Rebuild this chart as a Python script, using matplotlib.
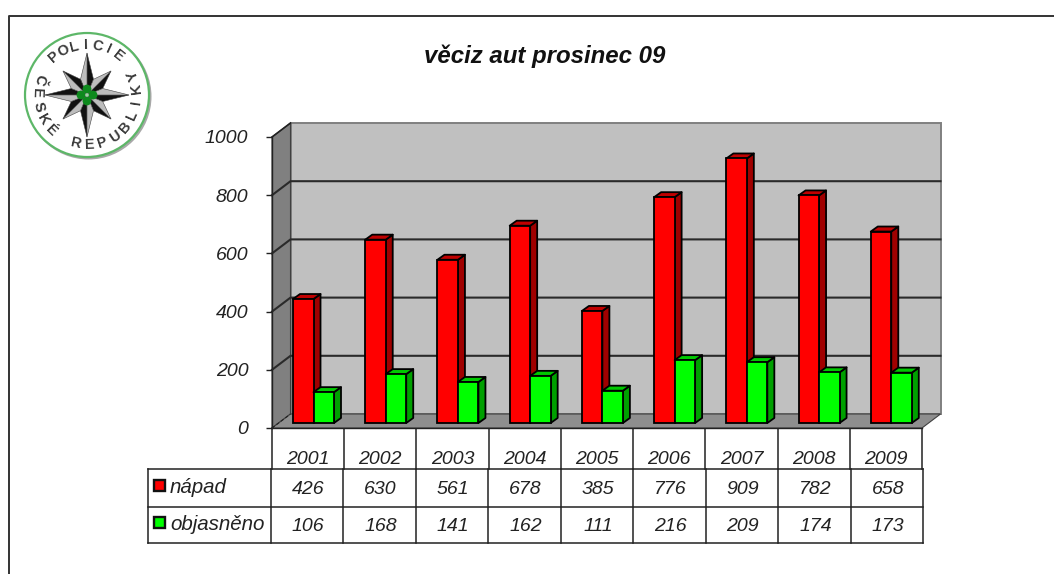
import numpy as np
import matplotlib
matplotlib.use("Agg")
import matplotlib.pyplot as plt
from matplotlib.patches import Polygon, Rectangle, Circle

plt.rcParams['font.family'] = ['Liberation Sans', 'DejaVu Sans']

years = ['2001', '2002', '2003', '2004', '2005', '2006', '2007', '2008', '2009']
napad = [426, 630, 561, 678, 385, 776, 909, 782, 658]
objasneno = [106, 168, 141, 162, 111, 216, 209, 174, 173]
yticks = [0, 200, 400, 600, 800, 1000]
title = 'věciz aut prosinec 09'
series_names = ['nápad', 'objasněno']

W, H = 1054, 574
fig = plt.figure(figsize=(W / 100, H / 100), dpi=100, facecolor='white')

# overlay in pixel coordinates for frame, logo, table
ov = fig.add_axes([0, 0, 1, 1], zorder=0)
ov.set_xlim(0, W); ov.set_ylim(H, 0); ov.axis('off')

# front plane of the 3D chart
L, R, T, B = 272, 922, 137, 428
ax = fig.add_axes([L / W, 1 - B / H, (R - L) / W, (B - T) / H], zorder=2)
ax.patch.set_alpha(0)
ax.set_xlim(0, 9); ax.set_ylim(0, 1000)
for s in ('top', 'right'):
    ax.spines[s].set_visible(False)
for s in ('left', 'bottom'):
    ax.spines[s].set_linewidth(1.0)
    ax.spines[s].set_color('#222222')
px_x = 9 / (R - L); px_y = 1000 / (B - T)
DX, DY = 18.5 * px_x, 14 * px_y      # wall depth
ax.set_xticks([])
ax.set_yticks(yticks)
ax.tick_params(axis='y', length=4.5, width=1, color='#222222', pad=12.5, labelsize=14)
for lab in ax.get_yticklabels():
    lab.set_fontstyle('italic'); lab.set_color('#222222'); lab.set_y(lab.get_position()[1])

# walls
ax.add_patch(Polygon([(DX, DY), (9 + DX, DY), (9 + DX, 1000 + DY), (DX, 1000 + DY)],
                     fc='#C0C0C0', ec='#808080', lw=1.4, clip_on=False, zorder=1))
ax.add_patch(Polygon([(0, 0), (DX, DY), (DX, 1000 + DY), (0, 1000)],
                     fc='#808080', ec='#404040', lw=0.8, clip_on=False, zorder=1.1))
ax.add_patch(Polygon([(0, 0), (DX, DY), (9 + DX, DY), (9, 0)],
                     fc='#8E8E8E', ec='#404040', lw=0.8, clip_on=False, zorder=1.1))
for v in yticks[1:-1]:
    ax.plot([0, DX, 9 + DX], [v, v + DY, v + DY], color='#2a2a2a', lw=1.5,
            clip_on=False, zorder=1.2, solid_joinstyle='miter')
ax.plot([0, DX], [0, DY], color='#222222', lw=0.8, ls=(0, (3, 2)), clip_on=False, zorder=1.2)
ax.plot([0, DX], [1000, 1000 + DY], color='#222222', lw=1.2, clip_on=False, zorder=1.2)

# bars
BW = 20.5 * px_x
OFF = 21 * px_x
BX, BY = 7 * px_x, 5 * px_y
BASE = 5 * px_y
def bar3d(x, v, front, side, top, z):
    ax.bar(x, v, width=BW, bottom=BASE, align='edge', color=front, edgecolor='black',
           linewidth=1.3, zorder=z + .2, clip_on=False)
    t = BASE + v
    ax.add_patch(Polygon([(x + BW, BASE), (x + BW + BX, BASE + BY), (x + BW + BX, t + BY), (x + BW, t)],
                         fc=side, ec='black', lw=1.3, zorder=z, clip_on=False, joinstyle='round'))
    ax.add_patch(Polygon([(x, t), (x + BX, t + BY), (x + BW + BX, t + BY), (x + BW, t)],
                         fc=top, ec='black', lw=1.3, zorder=z, clip_on=False, joinstyle='round'))
for i, (a, b) in enumerate(zip(napad, objasneno)):
    bar3d(i + OFF, a, '#FF0000', '#A00000', '#C00000', 2 + i)
    bar3d(i + OFF + BW, b, '#00FF00', '#00A000', '#00C800', 2.5 + i)

# frame
ov.plot([8.5, 8.5, W], [H, 16, 16], color='#333333', lw=1.4)

# title
ov.text(545, 56, title, ha='center', va='center', fontsize=17.3, fontweight='bold',
        fontstyle='italic', color='#111111')

# table
tc = '#222222'
n = len(years)
upper = [L + (R - L) * i / n for i in range(n + 1)]
lower = [271 + (923 - 271) * i / n for i in range(n + 1)]
for x in upper:
    ov.plot([x, x], [B, 469], color=tc, lw=1.1)
for y in (469, 507, 543):
    ov.plot([148, 923], [y, y], color=tc, lw=1.1)
for x in lower:
    ov.plot([x, x], [469, 543], color=tc, lw=1.1)
ov.plot([148, 148], [469, 543], color=tc, lw=1.1)
for i in range(n):
    ov.text((upper[i] + upper[i + 1]) / 2, 459.5, years[i], ha='center', va='center',
            fontsize=14, fontstyle='italic', color=tc)
    ov.text((lower[i] + lower[i + 1]) / 2 + 1, 490, str(napad[i]), ha='center', va='center',
            fontsize=14, fontstyle='italic', color=tc)
    ov.text((lower[i] + lower[i + 1]) / 2 + 1, 526.5, str(objasneno[i]), ha='center', va='center',
            fontsize=14, fontstyle='italic', color=tc)
for name, col, y in zip(series_names, ['#FF0000', '#00FF00'], [486, 523]):
    ov.add_patch(Rectangle((154, y - 6), 11, 11, fc=col, ec='#111111', lw=1.7))
    ov.text(170, y + 1.5, name, ha='left', va='center', fontsize=14.8, fontstyle='italic', color=tc)

# logo
cx, cy, rad = 87, 95, 62
ov.add_patch(Circle((cx + 1.5, cy + 1.5), rad + 1, fc='#A8A8A8', ec='none', zorder=2))
ov.add_patch(Circle((cx, cy), rad, fc='white', ec='#5DB768', lw=1.6, zorder=2.1))
for k in range(8):
    a = k * np.pi / 4
    tip = 42 if k % 2 == 0 else 34
    r_in = 17
    p = (cx + tip * np.sin(a), cy - tip * np.cos(a))
    for sgn, col in ((1, '#111111'), (-1, '#BDBDBD')):
        q = (cx + r_in * np.sin(a + sgn * np.pi / 8), cy - r_in * np.cos(a + sgn * np.pi / 8))
        ov.add_patch(Polygon([(cx, cy), p, q], fc=col, ec='#444444', lw=0.4, zorder=2.2))
for k in range(4):
    a = k * np.pi / 2
    ov.add_patch(Circle((cx + 6 * np.sin(a), cy - 6 * np.cos(a)), 4.4, fc='#0E8A1E', ec='none', zorder=2.3))
ov.add_patch(Circle((cx, cy), 1.8, fc='#9BD3A2', ec='none', zorder=2.4))
for j, ch in enumerate('POLICIE'):
    phi = -41 + j * 13.2
    r = np.radians(phi)
    ov.text(cx + 50 * np.sin(r), cy - 50 * np.cos(r), ch, rotation=-phi, rotation_mode='anchor',
            ha='center', va='center', fontsize=10.5, fontweight='bold', color='#3a3a3a', zorder=2.5)
for j, ch in enumerate('ČESKÉ REPUBLIKY'):
    th = 108 - j * 15.8
    r = np.radians(th)
    ov.text(cx - 50 * np.sin(r), cy + 50 * np.cos(r), ch, rotation=-th, rotation_mode='anchor',
            ha='center', va='center', fontsize=10.5, fontweight='bold', color='#3a3a3a', zorder=2.5)

fig.savefig('out.png', dpi=100, facecolor='white')
